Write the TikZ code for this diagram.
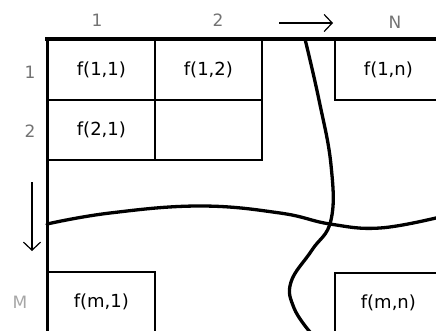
\documentclass[tikz,border=0pt]{standalone}
\usepackage{fontspec}
\setmainfont{DejaVu Sans}
\usetikzlibrary{arrows.meta,positioning}
\tikzset{
  cell/.style={draw, line width=1.8pt, minimum width=107pt, minimum height=60pt,
    inner sep=0pt, anchor=north west, font=\fontsize{18}{18}\selectfont},
  idx/.style={text=black!55, font=\fontsize{17}{17}\selectfont},
  wave/.style={line width=3.3pt, line cap=round},
  dir/.style={-{Straight Barb[length=8pt,width=17pt]}, line width=1.2pt}
}
\begin{document}
\begin{tikzpicture}[x=1pt,y=-1pt]
  \useasboundingbox (0,0) rectangle (436,330);
  % cells
  \node[cell] (c11) at (47,39) {f(1,1)};
  \node[cell] (c12) at (154,39) {f(1,2)};
  \node[cell] (c21) at (47,99) {f(2,1)};
  \node[cell] (c22) at (154,99) {};
  \node[cell] (c1n) at (334,39) {f(1,n)};
  \node[cell] (cm1) at (47,271) {f(m,1)};
  \node[cell] (cmn) at (334,272) {f(m,n)};
  % outer edges
  \draw[line width=4pt] (45,39) -- (440,39);
  \draw[line width=3pt] (47,39) -- (47,332);
  % indices
  \node[idx] (col1) at (97,20) {1};
  \node[idx] (col2) at (218,20) {2};
  \node[idx] (colN) at (395,22) {N};
  \node[idx] (row1) at (30,72) {1};
  \node[idx] (row2) at (30,131) {2};
  \node[idx, text=black!35] (rowM) at (20,302) {M};
  \coordinate (ca) at (279,23);
  \coordinate (cb) at (333,23);
  \coordinate (ra) at (32,182);
  \coordinate (rb) at (32,251);
  \draw[dir] (ca) -- (cb);
  \draw[dir] (ra) -- (rb);
  % breaks
  \draw[wave] plot[smooth, tension=0.7] coordinates
    {(305,39) (319,100) (331,165) (331,220) (312,250) (291,282) (294,308) (310,332)};
  \draw[wave] plot[smooth, tension=0.7] coordinates
    {(47,224) (110,213) (200,206) (280,213) (330,224) (380,228) (440,217)};
\end{tikzpicture}
\end{document}
